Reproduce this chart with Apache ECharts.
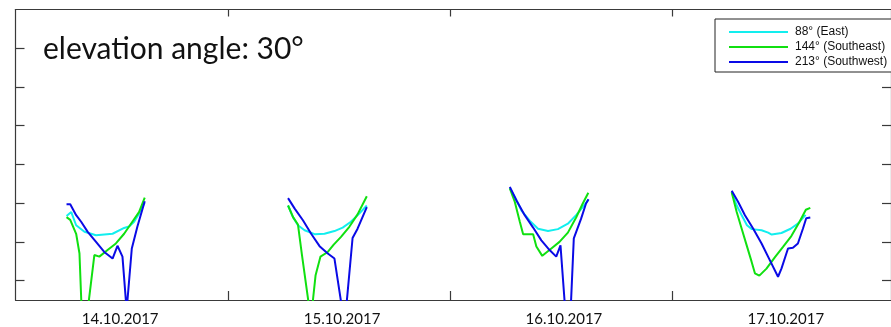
<!DOCTYPE html>
<html>
<head>
<meta charset="utf-8">
<script src="https://cdn.jsdelivr.net/npm/echarts@6/dist/echarts.min.js"></script>
<style>
  html, body { margin: 0; padding: 0; background: #fff; }
  #chart { width: 891px; height: 327px; }
</style>
</head>
<body>
<div id="chart"></div>
<script>
// Time in hours since 14.10.2017 00:00; null separates the daily passes.
const eastTime = [
  6.52, 7.03, 7.56, 8.46, 9.71, 11.50, 12.75, 13.29, 13.83, 14.36, 14.96, null,
  30.48, 31.02, 31.55, 32.27, 33.35, 34.42, 35.50, 36.39, 37.28, 38.18, 39.00, null,
  54.47, 55.01, 55.73, 56.62, 57.52, 58.60, 59.67, 60.75, 61.64, 62.36, 62.98, null,
  78.47, 79.01, 79.55, 80.12, 80.65, 81.70, 82.41, 82.80, 83.85, 84.84, 85.63, 86.46
];
const eastValue = [
  2.67, 2.77, 2.43, 2.26, 2.17, 2.21, 2.36, 2.40, 2.52, 2.73, 3.01, null,
  2.94, 2.64, 2.43, 2.30, 2.20, 2.21, 2.28, 2.37, 2.52, 2.73, 2.94, null,
  3.39, 3.16, 2.81, 2.55, 2.34, 2.28, 2.33, 2.47, 2.69, 2.90, 3.09, null,
  3.29, 2.94, 2.69, 2.43, 2.33, 2.30, 2.24, 2.19, 2.23, 2.34, 2.47, 2.70
];

const southeastTime = [
  6.52, 6.92, 7.56, 7.92, 8.31, 9.53, 10.07, 10.96, 11.86, 12.75, 13.64, 14.36, 14.98, null,
  30.48, 31.02, 31.55, 31.98, 32.95, 33.46, 33.99, 34.78, 35.42, 36.21, 37.11, 38.00, 39.00, null,
  54.47, 55.01, 55.55, 55.91, 56.99, 57.34, 57.98, 59.06, 59.84, 60.75, 61.64, 62.36, 62.96, null,
  78.47, 79.01, 79.55, 80.09, 80.62, 80.98, 81.46, 82.23, 83.13, 84.02, 84.92, 85.81, 86.49, 86.97
];
const southeastValue = [
  2.64, 2.57, 2.21, 1.70, -0.74, 1.66, 1.62, 1.79, 1.96, 2.21, 2.52, 2.77, 3.14, null,
  2.94, 2.64, 2.45, 1.67, 0.00, 1.14, 1.62, 1.74, 1.93, 2.13, 2.39, 2.71, 3.18, null,
  3.38, 3.03, 2.52, 2.20, 2.20, 1.88, 1.64, 1.85, 2.00, 2.24, 2.63, 2.99, 3.27, null,
  3.28, 2.77, 2.34, 1.91, 1.49, 1.19, 1.13, 1.31, 1.60, 1.87, 2.15, 2.52, 2.83, 2.88
];

const southwestTime = [
  6.52, 6.92, 7.56, 8.10, 8.81, 9.71, 10.60, 11.50, 12.03, 12.57, 13.02, 13.58, 14.18, 14.98, null,
  30.48, 31.20, 32.09, 32.98, 33.89, 34.78, 35.50, 36.60, 37.46, 38.00, 39.00, null,
  54.47, 55.19, 56.08, 56.99, 57.88, 58.77, 59.49, 59.95, 60.83, 61.39, 62.18, 62.71, 62.98, null,
  78.47, 79.17, 79.90, 80.80, 81.70, 82.59, 83.48, 83.85, 84.56, 85.09, 85.63, 86.17, 86.53, 86.97
];
const southwestValue = [
  2.97, 2.97, 2.69, 2.52, 2.26, 2.00, 1.74, 1.57, 1.90, 1.62, 0.24, 1.83, 2.39, 3.05, null,
  3.13, 2.86, 2.56, 2.21, 1.89, 1.70, 1.57, -0.15, 2.10, 2.34, 2.90, null,
  3.42, 3.07, 2.69, 2.37, 2.04, 1.79, 1.62, 1.91, -0.95, 2.09, 2.60, 2.99, 3.10, null,
  3.32, 3.03, 2.69, 2.34, 1.96, 1.53, 1.10, 1.31, 1.83, 1.85, 1.96, 2.34, 2.61, 2.63
];

const seriesNames = ['88° (East)', '144° (Southeast)', '213° (Southwest)'];
const dayLabels = ['14.10.2017', '15.10.2017', '16.10.2017', '17.10.2017'];
const labelHours = [12, 36, 60, 84];
const midnightHours = [24, 48, 72];
const levelTicks = [1, 2, 3, 4, 5, 6, 7];
const titleText = 'elevation angle: 30°';

function pairs(times, values) {
  return times.map((t, i) => (t == null || values[i] == null) ? [null, null] : [t, values[i]]);
}

const chart = echarts.init(document.getElementById('chart'), null, { renderer: 'canvas' });

const axisColor = '#3a3a3a';
const lineSeries = (name, times, values, color) => ({
  name: name,
  type: 'line',
  data: pairs(times, values),
  symbol: 'none',
  connectNulls: false,
  clip: true,
  animation: false,
  lineStyle: { color: color, width: 2 },
  itemStyle: { color: color }
});

chart.setOption({
  animation: false,
  backgroundColor: '#ffffff',
  grid: { left: 15.5, top: 9.5, right: -6, bottom: 25.3, containLabel: false },
  xAxis: [
    {
      type: 'value', position: 'bottom', min: 1, max: 95.7,
      axisLine: { show: true, onZero: false, lineStyle: { color: axisColor, width: 1.2 } },
      axisTick: { show: true, inside: true, length: 9, customValues: midnightHours,
                  lineStyle: { color: axisColor, width: 1.2 } },
      axisLabel: {
        show: true, customValues: labelHours, margin: 12,
        fontFamily: 'Lato', fontSize: 15, color: '#111', padding: [0, 0, 0, 6],
        formatter: v => dayLabels[labelHours.indexOf(v)] || ''
      },
      splitLine: { show: false }
    },
    {
      type: 'value', position: 'top', min: 1, max: 95.7,
      axisLine: { show: true, onZero: false, lineStyle: { color: axisColor, width: 1.2 } },
      axisTick: { show: true, inside: true, length: 7, customValues: midnightHours,
                  lineStyle: { color: axisColor, width: 1.2 } },
      axisLabel: { show: false },
      splitLine: { show: false }
    }
  ],
  yAxis: [
    {
      type: 'value', position: 'left', min: 0.5, max: 8,
      axisLine: { show: true, onZero: false, lineStyle: { color: axisColor, width: 1.2 } },
      axisTick: { show: true, inside: true, length: 9, customValues: levelTicks,
                  lineStyle: { color: axisColor, width: 1.2 } },
      axisLabel: { show: false },
      splitLine: { show: false }
    },
    {
      type: 'value', position: 'right', min: 0.5, max: 8,
      axisLine: { show: true, onZero: false, lineStyle: { color: axisColor, width: 1.2 } },
      axisTick: { show: true, inside: true, length: 9, customValues: levelTicks,
                  lineStyle: { color: axisColor, width: 1.2 } },
      axisLabel: { show: false },
      splitLine: { show: false }
    }
  ],
  legend: {
    orient: 'vertical',
    left: 715, top: 19,
    padding: [6, 6, 3, 13],
    itemWidth: 59, itemHeight: 14, itemGap: 1,
    backgroundColor: '#fff',
    borderColor: '#222', borderWidth: 1, borderRadius: 0,
    selectedMode: false,
    itemStyle: { opacity: 0 },
    textStyle: { fontFamily: 'Liberation Sans', fontSize: 12, color: '#111',
                 padding: [0, 0, 0, 2], lineHeight: 14 },
    data: seriesNames
  },
  graphic: [{
    type: 'text', left: 43, top: 34,
    style: { text: titleText, font: '30px Lato', fill: '#111' }
  }],
  series: [
    lineSeries(seriesNames[0], eastTime, eastValue, '#12eeee'),
    lineSeries(seriesNames[1], southeastTime, southeastValue, '#10e010'),
    lineSeries(seriesNames[2], southwestTime, southwestValue, '#0a0ae6')
  ]
});
</script>
</body>
</html>
